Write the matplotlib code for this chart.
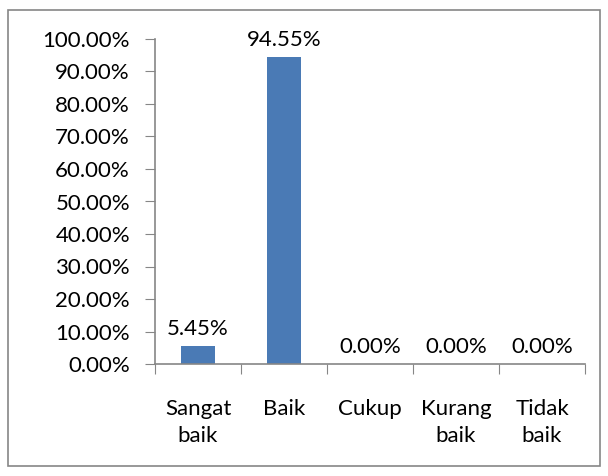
import matplotlib
matplotlib.use("Agg")
import matplotlib.pyplot as plt
from matplotlib.patches import Rectangle

categories = ["Sangat\nbaik", "Baik", "Cukup", "Kurang\nbaik", "Tidak\nbaik"]
values = [5.45, 94.55, 0.00, 0.00, 0.00]
y_ticks = [0, 10, 20, 30, 40, 50, 60, 70, 80, 90, 100]

plt.rcParams['font.family'] = ['Lato', 'DejaVu Sans']
FS = 16

fig = plt.figure(figsize=(6.08, 4.76), dpi=100)
fig.patch.set_facecolor("white")
# outer chart-area border
fig.patches.append(Rectangle((8 / 608, 10 / 476), 592 / 608, 456 / 476,
                             transform=fig.transFigure, fill=False,
                             edgecolor="#868686", linewidth=1.2))

ax = fig.add_axes([155 / 608, (476 - 364) / 476, 430 / 608, 325 / 476])
x = list(range(len(categories)))
bars = ax.bar(x, values, width=0.4, color="#4A7AB5", zorder=2)

ax.set_xlim(-0.5, len(categories) - 0.5)
ax.set_ylim(0, 100)
ax.set_yticks(y_ticks)
ax.set_yticklabels([f"{v:.2f}%" for v in y_ticks], fontsize=FS)

# category boundaries carry the tick marks
ax.set_xticks([i - 0.5 for i in range(len(categories) + 1)])
ax.set_xticklabels([])
ax.set_xticks(x, minor=True)
ax.set_xticklabels(categories, minor=True, fontsize=FS, linespacing=1.45)
ax.tick_params(axis="x", which="minor", length=0, pad=25)
ax.tick_params(axis="x", which="major", length=7, color="#868686", direction="out")
ax.tick_params(axis="y", length=7, color="#868686", direction="out", pad=11)

for s in ["top", "right"]:
    ax.spines[s].set_visible(False)
for s in ["left", "bottom"]:
    ax.spines[s].set_color("#868686")
    ax.spines[s].set_linewidth(1.2)

for rect, v in zip(bars, values):
    ax.annotate(f"{v:.2f}%", (rect.get_x() + rect.get_width() / 2, v),
                xytext=(0, 5), textcoords="offset points",
                ha="center", va="bottom", fontsize=FS)

fig.savefig("out.png", dpi=100)
